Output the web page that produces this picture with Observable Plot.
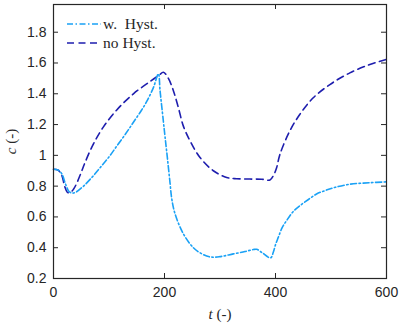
<!DOCTYPE html>
<html>
<head>
<meta charset="utf-8">
<script src="https://cdn.jsdelivr.net/npm/d3@7"></script>
<script src="https://cdn.jsdelivr.net/npm/@observablehq/plot@0.6"></script>
<style>
  html, body { margin: 0; padding: 0; background: #fff; }
  #wrap { position: relative; width: 399px; height: 324px; }
  #legend { position: absolute; left: 0; top: 0; }
</style>
</head>
<body>
<div id="wrap"></div>
<script>
// ---- data ----
const seriesNames = ["w. Hyst.", "no Hyst."];
const tHyst = [0, 8, 15, 22, 28, 34, 40, 54, 70, 84, 100, 114, 130, 144, 158, 168, 180, 189, 192, 198, 201, 205, 210, 213, 219, 234, 252, 265, 282, 300, 324, 345, 360, 366, 375, 391, 396, 400, 405, 412, 420, 432, 444, 460, 474, 490, 505, 535, 570, 600];
const cHyst = [0.91, 0.905, 0.88, 0.81, 0.765, 0.755, 0.76, 0.80, 0.86, 0.92, 0.99, 1.06, 1.14, 1.215, 1.29, 1.35, 1.44, 1.53, 1.42, 1.22, 1.12, 0.99, 0.82, 0.72, 0.62, 0.49, 0.40, 0.365, 0.34, 0.342, 0.36, 0.375, 0.388, 0.39, 0.37, 0.334, 0.37, 0.42, 0.467, 0.53, 0.576, 0.635, 0.673, 0.715, 0.749, 0.772, 0.79, 0.813, 0.822, 0.828];
const tNo = [0, 8, 15, 20, 25, 30, 36, 42, 50, 57, 72, 90, 114, 144, 174, 190, 198, 207, 216, 225, 234, 246, 264, 288, 312, 330, 354, 375, 390, 396, 402, 408, 426, 444, 468, 498, 534, 570, 600];
const cNo = [0.91, 0.905, 0.87, 0.80, 0.76, 0.758, 0.78, 0.82, 0.89, 0.955, 1.075, 1.185, 1.295, 1.40, 1.48, 1.52, 1.54, 1.50, 1.42, 1.31, 1.19, 1.094, 0.986, 0.90, 0.856, 0.848, 0.846, 0.845, 0.84, 0.867, 0.92, 1.007, 1.16, 1.267, 1.374, 1.46, 1.536, 1.59, 1.623];
const xTicks = [0, 200, 400, 600];
const yTicks = [0.2, 0.4, 0.6, 0.8, 1, 1.2, 1.4, 1.6, 1.8];
const xDomain = [0, 600];
const yDomain = [0.2, 1.98];

// ---- styles ----
const colHyst = "#1aa1f5";
const colNo = "#1e1eae";
const dashHyst = "6,2.5,1.5,2.5";
const dashNo = "7,4.5";
const axisCol = "#262626";
const W = 399, H = 324, mL = 53, mR = 13, mT = 4, mB = 46;
const pw = W - mL - mR, ph = H - mT - mB, tl = 5;

const hyst = tHyst.map((t, i) => ({t, c: cHyst[i]}));
const noh = tNo.map((t, i) => ({t, c: cNo[i]}));
const fmt = d3.format("~g");

const chart = Plot.plot({
  width: W, height: H,
  marginLeft: mL, marginRight: mR, marginTop: mT, marginBottom: mB,
  style: {fontFamily: "'Liberation Sans', Arial, sans-serif", fontSize: "14px", color: axisCol, background: "#fff"},
  x: {domain: xDomain},
  y: {domain: yDomain},
  marks: [
    Plot.axisX({anchor: "bottom", ticks: xTicks, tickSize: 0, tickPadding: 9, tickFormat: fmt, label: "t (-)", labelAnchor: "center", labelOffset: 40, labelArrow: false}),
    Plot.axisY({anchor: "left", ticks: yTicks, tickSize: 0, tickPadding: 7, tickFormat: fmt, label: "c (-)", labelAnchor: "center", labelOffset: 48, labelArrow: false}),
    Plot.tickX(xTicks, {x: d => d, insetTop: ph - tl, stroke: axisCol, strokeWidth: 1}),
    Plot.tickX(xTicks, {x: d => d, insetBottom: ph - tl, stroke: axisCol, strokeWidth: 1}),
    Plot.tickY(yTicks, {y: d => d, insetRight: pw - tl, stroke: axisCol, strokeWidth: 1}),
    Plot.tickY(yTicks, {y: d => d, insetLeft: pw - tl, stroke: axisCol, strokeWidth: 1}),
    Plot.line(noh, {x: "t", y: "c", stroke: colNo, strokeWidth: 1.6, strokeDasharray: dashNo, curve: "catmull-rom"}),
    Plot.line(hyst, {x: "t", y: "c", stroke: colHyst, strokeWidth: 1.6, strokeDasharray: dashHyst, curve: "catmull-rom"}),
    Plot.frame({stroke: axisCol, strokeWidth: 1.2})
  ]
});

const wrap = document.getElementById("wrap");
wrap.appendChild(chart);

// axis labels: serif with italic variable
function styleLabel(sel, v) {
  const g = chart.querySelector(sel);
  if (!g) return;
  g.setAttribute("font-family", "'Liberation Serif', 'Times New Roman', serif");
  g.setAttribute("font-size", "15");
  const t = g.querySelector("text");
  if (!t) return;
  t.textContent = "";
  const a = document.createElementNS("http://www.w3.org/2000/svg", "tspan");
  a.setAttribute("font-style", "italic");
  a.textContent = v;
  const b = document.createElementNS("http://www.w3.org/2000/svg", "tspan");
  b.textContent = " (-)";
  t.appendChild(a); t.appendChild(b);
}
styleLabel('g[aria-label="x-axis label"]', "t");
styleLabel('g[aria-label="y-axis label"]', "c");

// legend overlay
const ns = "http://www.w3.org/2000/svg";
const leg = document.createElementNS(ns, "svg");
leg.setAttribute("id", "legend");
leg.setAttribute("width", 200);
leg.setAttribute("height", 60);
const entries = [
  {name: seriesNames[0], color: colHyst, dash: dashHyst, y: 24},
  {name: seriesNames[1], color: colNo, dash: dashNo, y: 43}
];
entries.forEach(e => {
  const l = document.createElementNS(ns, "line");
  l.setAttribute("x1", 67); l.setAttribute("x2", 101);
  l.setAttribute("y1", e.y); l.setAttribute("y2", e.y);
  l.setAttribute("stroke", e.color); l.setAttribute("stroke-width", 1.6);
  l.setAttribute("stroke-dasharray", e.dash);
  leg.appendChild(l);
  const tx = document.createElementNS(ns, "text");
  tx.setAttribute("x", 103); tx.setAttribute("y", e.y + 4.5);
  tx.setAttribute("font-family", "'Liberation Serif', 'Times New Roman', serif");
  tx.setAttribute("font-size", "15.5");
  tx.setAttribute("fill", axisCol);
  tx.setAttribute("xml:space", "preserve");
  tx.style.whiteSpace = "pre";
  tx.textContent = e.name.replace(". ", ".  ");
  leg.appendChild(tx);
});
wrap.appendChild(leg);
</script>
</body>
</html>
